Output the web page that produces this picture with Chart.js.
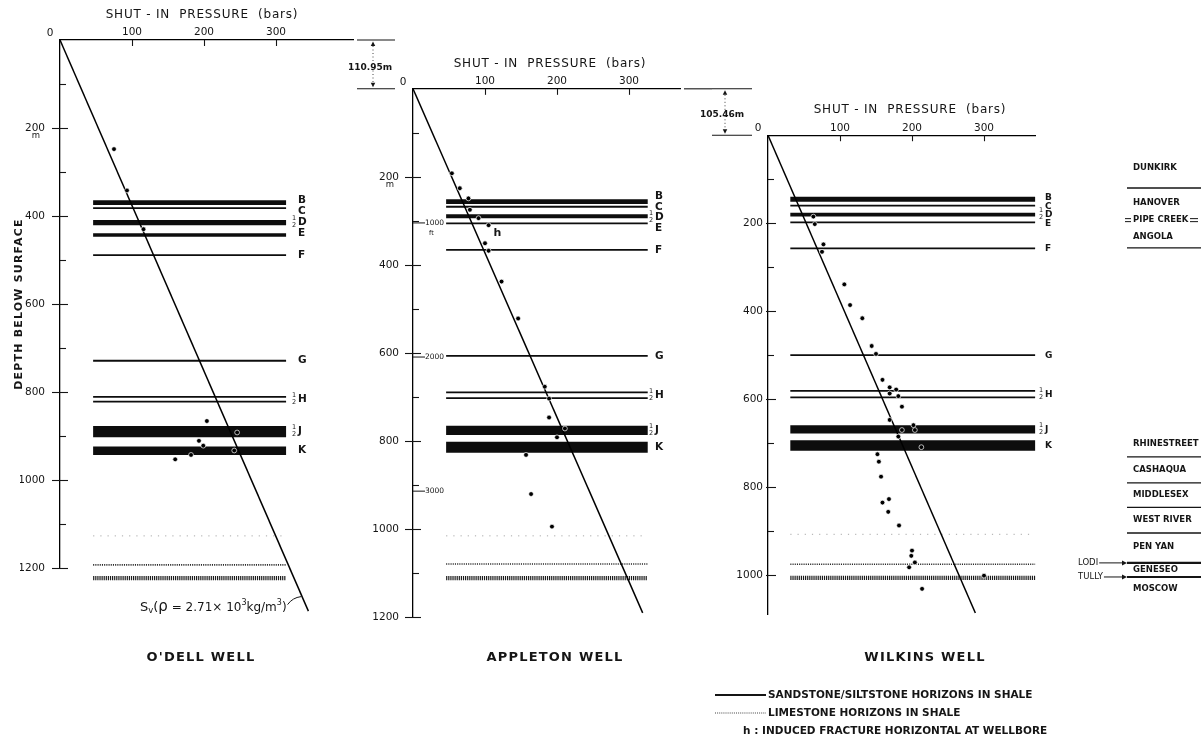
<!DOCTYPE html>
<html lang="en">
<head>
<meta charset="utf-8">
<title>Shut-in pressure vs depth – O'Dell, Appleton and Wilkins wells</title>
<script src="https://cdn.jsdelivr.net/npm/chart.js@4.4.1/dist/chart.umd.min.js"></script>
<style>
  html, body { margin: 0; padding: 0; background: #fff; }
  #figure { position: relative; width: 1201px; height: 752px; overflow: hidden; background: #fff; }
  #figure canvas { position: absolute; left: 0; top: 0; }
</style>
</head>
<body>
<div id="figure">
  <canvas id="odell" width="1201" height="752"></canvas>
  <canvas id="appleton" width="1201" height="752"></canvas>
  <canvas id="wilkins" width="1201" height="752"></canvas>
</div>
<script>
// ---------------------------------------------------------------------------
// Data
// ---------------------------------------------------------------------------
const wellNames = ["O'DELL WELL", 'APPLETON WELL', 'WILKINS WELL'];
const surfaceDrop = [0, 110.95, 105.46];          // m, surface of each well below the previous one
const pressureTicks = [0, 100, 200, 300];          // bars
const depthTickStep = 100;                         // m
const depthLabelStep = 200;                        // m
const footMarks = [1000, 2000, 3000];              // ft, marked on the Appleton log

// sandstone / siltstone horizons (top and base depth, m)
const bedNames = ['B', 'C', 'D', 'E', 'F', 'G', 'H', 'H', 'J', 'K'];
const halfBeds = ['D', 'H', 'J'];

const odellBedTop  = [364, 382, 409, 439, 489, 729, 811, 822, 877, 924];
const odellBedBase = [375, 382, 421, 447, 489, 729, 811, 822, 903, 943];
const odellLimestone = [1127, 1193, 1223];
const odellSvPressure = [0, 345];
const odellSvDepth    = [0, 1298];
const odellShutInPressure = [75, 93, 116, 204, 193, 199, 182, 160, 242, 246];
const odellShutInDepth    = [248, 342, 430, 866, 911, 922, 943, 953, 933, 892];

const appletonBedTop  = [251, 268, 285, 306, 366, 607, 690, 703, 766, 802];
const appletonBedBase = [262, 268, 294, 306, 366, 607, 690, 703, 787, 827];
const appletonLimestone = [1016, 1080, 1112];
const appletonSvPressure = [0, 319];
const appletonSvDepth    = [0, 1191];
const appletonShutInPressure = [54, 65, 77, 79, 91, 105, 100, 105, 123, 146, 183, 189, 189, 200, 211, 157, 164, 193];
const appletonShutInDepth    = [192, 226, 249, 275, 294, 310, 351, 368, 438, 522, 677, 704, 747, 792, 772, 832, 921, 995];
const appletonHorizontalFracture = [5];            // index of the test marked "h"

const wilkinsBedTop  = [140, 160, 176, 198, 257, 500, 581, 596, 659, 693];
const wilkinsBedBase = [151, 160, 185, 198, 257, 500, 581, 596, 678, 717];
const wilkinsLimestone = [907, 975, 1006];
const wilkinsSvPressure = [0, 288];
const wilkinsSvDepth    = [0, 1086];
const wilkinsShutInPressure = [63, 65, 77, 75, 106, 114, 131, 144, 150, 159, 169, 178, 169, 181, 186, 169, 202, 204, 186, 181,
                               213, 152, 154, 157, 159, 168, 167, 182, 200, 199, 204, 196, 300, 214];
const wilkinsShutInDepth    = [185, 202, 248, 265, 339, 386, 416, 479, 497, 556, 573, 578, 587, 593, 617, 647, 659, 670, 670, 685,
                               709, 725, 742, 776, 835, 827, 856, 887, 944, 956, 971, 982, 1001, 1031];

// stratigraphic column beside the Wilkins log (depths on the Wilkins scale, m)
const formationNames = ['DUNKIRK', 'HANOVER', 'PIPE CREEK', 'ANGOLA', 'RHINESTREET', 'CASHAQUA',
                        'MIDDLESEX', 'WEST RIVER', 'PEN YAN', 'GENESEO', 'MOSCOW'];
const formationLabelDepth = [75, 154, 193, 231, 702, 761, 818, 875, 936, 988, 1030];
const formationContactDepth = [120, 256, 731, 790, 846, 904];
const markerBedNames = ['LODI', 'TULLY'];
const markerBedDepth = [972, 1004];

const legendItems = ['SANDSTONE/SILTSTONE HORIZONS IN SHALE', 'LIMESTONE HORIZONS IN SHALE',
                     'h : INDUCED FRACTURE HORIZONTAL AT WELLBORE'];

// ---------------------------------------------------------------------------
// Drawing helpers
// ---------------------------------------------------------------------------
const FAMILY = '"DejaVu Sans", "Liberation Sans", Arial, sans-serif';
const INK = '#151515';
const PX_PER_M = 0.44;
const PX_PER_BAR = 0.72;
const W = 1201, H = 752;

function drawText(ctx, s, x, y, size, o = {}) {
  ctx.save();
  ctx.font = (o.style ? o.style + ' ' : '') + (o.weight || 'normal') + ' ' + size + 'px ' + FAMILY;
  ctx.fillStyle = o.color || INK;
  ctx.textAlign = o.align || 'left';
  ctx.textBaseline = o.baseline || 'middle';
  if (o.spacing) ctx.letterSpacing = o.spacing + 'px';
  ctx.fillText(s, x, y);
  const w = ctx.measureText(s).width;
  ctx.restore();
  return w;
}

function seg(ctx, x1, y1, x2, y2, width = 1, dash = [], color = INK) {
  ctx.save();
  ctx.strokeStyle = color;
  ctx.lineWidth = width;
  ctx.setLineDash(dash);
  ctx.beginPath();
  ctx.moveTo(x1, y1);
  ctx.lineTo(x2, y2);
  ctx.stroke();
  ctx.restore();
}

function arrowHead(ctx, x, y, dx, dy, size = 4.5) {
  // filled head with its tip at (x, y) pointing along (dx, dy)
  const len = Math.hypot(dx, dy), ux = dx / len, uy = dy / len;
  ctx.save();
  ctx.fillStyle = INK;
  ctx.beginPath();
  ctx.moveTo(x, y);
  ctx.lineTo(x - ux * size - uy * size * 0.5, y - uy * size + ux * size * 0.5);
  ctx.lineTo(x - ux * size + uy * size * 0.5, y - uy * size - ux * size * 0.5);
  ctx.closePath();
  ctx.fill();
  ctx.restore();
}

const LIMESTONE_STYLE = [
  { width: 1.0, dash: [1.2, 6], color: '#a8a8a8' },
  { width: 1.6, dash: [1.1, 1.1], color: '#2a2a2a' },
  { width: 4.2, dash: [1.2, 0.9], color: '#1c1c1c' }
];

// ---------------------------------------------------------------------------
// Panel layout
// ---------------------------------------------------------------------------
const wells = [
  { canvas: 'odell', name: wellNames[0], left: 60, xMax: 407, yMax: 1200,
    bandFrom: 46, bandTo: 314, labelX: 298, labelGap: 11, letterSize: 10.5, yLabelPad: 15, majorOut: 8,
    titleX: 202, nameX: 201, depthTitle: true, unitUnder200: true,
    bedTop: odellBedTop, bedBase: odellBedBase, lime: odellLimestone,
    svP: odellSvPressure, svD: odellSvDepth, p: odellShutInPressure, d: odellShutInDepth },
  { canvas: 'appleton', name: wellNames[1], left: 413, xMax: 372, yMax: 1200,
    bandFrom: 46, bandTo: 326, labelX: 655, labelGap: 10.5, letterSize: 10.5, yLabelPad: 14, majorOut: 8,
    titleX: 550, nameX: 555, unitUnder200: true,
    bedTop: appletonBedTop, bedBase: appletonBedBase, lime: appletonLimestone,
    svP: appletonSvPressure, svD: appletonSvDepth, p: appletonShutInPressure, d: appletonShutInDepth },
  { canvas: 'wilkins', name: wellNames[2], left: 768, xMax: 371, yMax: 1090,
    bandFrom: 31, bandTo: 371, labelX: 1045, labelGap: 8.5, letterSize: 9, yLabelPad: 5, majorOut: 2,
    titleX: 910, nameX: 925,
    bedTop: wilkinsBedTop, bedBase: wilkinsBedBase, lime: wilkinsLimestone,
    svP: wilkinsSvPressure, svD: wilkinsSvDepth, p: wilkinsShutInPressure, d: wilkinsShutInDepth }
];
let surfaceY = 40;
wells.forEach((w, i) => {
  surfaceY += surfaceDrop[i] * PX_PER_M;
  w.top = surfaceY;
  w.right = w.left + w.xMax * PX_PER_BAR;
  w.bottom = w.top + w.yMax * PX_PER_M;
});

// ---------------------------------------------------------------------------
// Annotation layers
// ---------------------------------------------------------------------------
function drawAxesDecor(chart, w) {
  const { ctx, chartArea: a, scales: { x, y } } = chart;
  // pressure ticks point into the plot
  x.ticks.forEach(t => {
    if (t.value <= 0) return;
    const px = Math.round(x.getPixelForValue(t.value)) + 0.5;
    seg(ctx, px, a.top, px, a.top + 6, 1.1);
  });
  // depth ticks every 100 m, labelled every 200 m
  y.ticks.forEach(t => {
    if (t.value <= 0) return;
    const py = Math.round(y.getPixelForValue(t.value)) + 0.5;
    const major = t.value % depthLabelStep === 0;
    seg(ctx, a.left - (major ? w.majorOut : 0), py, a.left + (major ? 8 : 6), py, 1.1);
  });
  drawText(ctx, '0', x.getPixelForValue(0) - 10, a.top - 7, 10.5, { align: 'center' });
  drawText(ctx, 'SHUT - IN  PRESSURE  (bars)', w.titleX, a.top - 25, 12, { align: 'center', spacing: 0.8 });
  if (w.unitUnder200) {
    drawText(ctx, 'm', a.left - w.yLabelPad - 9, y.getPixelForValue(200) + 8, 8.5, { align: 'center' });
  }
  if (w.depthTitle) {
    ctx.save();
    ctx.translate(19, (a.top + a.bottom) / 2);
    ctx.rotate(-Math.PI / 2);
    drawText(ctx, 'DEPTH BELOW SURFACE', 0, 0, 11, { align: 'center', weight: 'bold', spacing: 1.2 });
    ctx.restore();
  }
  drawText(ctx, w.name, w.nameX, 658, 13, { align: 'center', weight: 'bold', spacing: 1.2 });
}

function drawBedLabels(chart, w) {
  const { ctx, scales: { y } } = chart;
  const names = [];
  bedNames.forEach(n => { if (!names.includes(n)) names.push(n); });
  const centre = {};
  names.forEach(n => {
    const ys = [];
    bedNames.forEach((m, i) => { if (m === n) ys.push(y.getPixelForValue((w.bedTop[i] + w.bedBase[i]) / 2)); });
    centre[n] = ys.reduce((s, v) => s + v, 0) / ys.length;
  });
  // the closely spaced upper horizons get evenly stacked letters
  const stack = ['B', 'C', 'D', 'E'];
  const mean = stack.reduce((s, n) => s + centre[n], 0) / stack.length;
  stack.forEach((n, k) => { centre[n] = mean + (k - 1.5) * w.labelGap; });
  names.forEach(n => {
    const py = centre[n];
    if (halfBeds.includes(n)) {
      drawText(ctx, '1', w.labelX - 4, py - 4, 6.5, { align: 'center' });
      drawText(ctx, '2', w.labelX - 4, py + 3, 6.5, { align: 'center' });
    }
    drawText(ctx, n, w.labelX, py, w.letterSize, { weight: 'bold' });
  });
}

function drawSvLabel(chart) {
  const { ctx, chartArea: a, scales: { y } } = chart;
  const cy = y.getPixelForValue(1290);
  let cx = a.left + 80;
  const parts = [['S', 13, 0], ['v', 8.5, 3], ['(', 13, 0], ['\u03c1', 15, 0], [' = 2.71\u00d7 10', 12, 0],
                 ['3', 8, -5], ['kg/m', 12, 0], ['3', 8, -5], [')', 12, 0]];
  parts.forEach(([s, size, dy]) => { cx += drawText(ctx, s, cx, cy + dy, size); });
  // leader to the overburden line
  const meta = chart.getDatasetMeta(1).data;
  const p0 = meta[0], p1 = meta[meta.length - 1];
  const ty = cy - 11;
  const t = (ty - p0.y) / (p1.y - p0.y);
  const tx = p0.x + (p1.x - p0.x) * t;
  ctx.save();
  ctx.strokeStyle = INK; ctx.lineWidth = 1;
  ctx.beginPath();
  ctx.moveTo(cx + 1, cy - 3);
  ctx.quadraticCurveTo(cx + 6, ty + 1, tx - 1, ty);
  ctx.stroke();
  ctx.restore();
}

function drawSurfaceOffset(chart, yPrev, xFrom, xTo, xArrow, label, textX) {
  const { ctx, chartArea: a } = chart;
  seg(ctx, xFrom, yPrev, xTo, yPrev, 1.1);
  seg(ctx, xFrom, a.top, xTo, a.top, 1.1);
  seg(ctx, xArrow, yPrev + 6, xArrow, a.top - 6, 0.8, [1, 2.5]);
  arrowHead(ctx, xArrow, yPrev + 1.5, 0, -1, 4.5);
  arrowHead(ctx, xArrow, a.top - 1.5, 0, 1, 4.5);
  drawText(ctx, label, textX, (yPrev + a.top) / 2 + 3, 9, { align: 'center', weight: 'bold' });
}

function drawAppletonExtras(chart) {
  const { ctx, chartArea: a, scales: { y } } = chart;
  const yOdell = y.getPixelForValue(-surfaceDrop[1]);
  drawSurfaceOffset(chart, yOdell, 357, 395, 373, surfaceDrop[1].toFixed(2) + 'm', 370);
  // depth in feet
  footMarks.forEach((f, i) => {
    const py = y.getPixelForValue(f * 0.3048);
    seg(ctx, a.left, py, a.left + 12, py, 1);
    drawText(ctx, String(f), a.left + 12, py, 7.5);
    if (i === 0) drawText(ctx, 'ft', a.left + 16, py + 10, 6.5);
  });
  // horizontal induced fracture
  const pts = chart.getDatasetMeta(0).data;
  appletonHorizontalFracture.forEach(i => {
    drawText(ctx, 'h', pts[i].x + 5, pts[i].y + 8, 11, { weight: 'bold' });
  });
}

function drawWilkinsExtras(chart) {
  const { ctx, scales: { y } } = chart;
  const yApple = y.getPixelForValue(-surfaceDrop[2]);
  seg(ctx, 684, yApple, 712, yApple, 1.1);
  drawSurfaceOffset(chart, yApple, 712, 752, 725, surfaceDrop[2].toFixed(2) + 'm', 722);

  // stratigraphic column
  const fx = 1133, lx = 1127;
  formationNames.forEach((n, i) => {
    const py = y.getPixelForValue(formationLabelDepth[i]);
    drawText(ctx, n, fx, py, 8.5, { weight: 'bold' });
    if (n === 'PIPE CREEK') {
      seg(ctx, 1125, py - 1.5, 1131, py - 1.5, 1); seg(ctx, 1125, py + 1.5, 1131, py + 1.5, 1);
      seg(ctx, 1190, py - 1.5, 1198, py - 1.5, 1); seg(ctx, 1190, py + 1.5, 1198, py + 1.5, 1);
    }
  });
  formationContactDepth.forEach(d => {
    const py = y.getPixelForValue(d);
    seg(ctx, lx, py, W, py, 1.3);
  });
  markerBedNames.forEach((n, i) => {
    const py = y.getPixelForValue(markerBedDepth[i]);
    const tw = drawText(ctx, n, 1078, py, 8.5, { weight: 'normal' });
    seg(ctx, 1078 + tw + 1, py, lx - 2, py, 1);
    arrowHead(ctx, lx, py, 1, 0, 5);
    seg(ctx, lx, py, W, py, 2.2);
  });

  // key to the horizon line styles
  seg(ctx, 715, 695, 766, 695, 2);
  drawText(ctx, legendItems[0], 768, 695, 10.5, { weight: 'bold' });
  seg(ctx, 715, 713, 766, 713, 1.1, [1, 1.1], '#444');
  drawText(ctx, legendItems[1], 768, 713, 10.5, { weight: 'bold' });
  drawText(ctx, legendItems[2], 743, 731, 10.5, { weight: 'bold' });
}

// ---------------------------------------------------------------------------
// Charts
// ---------------------------------------------------------------------------
function makeWell(w, index) {
  const datasets = [];
  datasets.push({
    label: 'shut-in pressure',
    data: w.p.map((p, i) => ({ x: p, y: w.d[i] })),
    showLine: false, pointRadius: 2.4, pointHoverRadius: 2.4,
    pointBackgroundColor: '#000', pointBorderColor: '#fff', pointBorderWidth: 0.7,
    order: 0, clip: false
  });
  datasets.push({
    label: 'Sv',
    data: w.svP.map((p, i) => ({ x: p, y: w.svD[i] })),
    showLine: true, borderColor: '#000', borderWidth: 1.5, pointRadius: 0,
    order: 1, clip: false
  });
  w.bedTop.forEach((top, i) => {
    const base = w.bedBase[i];
    const mid = (top + base) / 2;
    datasets.push({
      label: 'horizon ' + bedNames[i],
      data: [{ x: w.bandFrom, y: mid }, { x: w.bandTo, y: mid }],
      showLine: true, borderColor: '#0d0d0d', borderCapStyle: 'butt', pointRadius: 0,
      borderWidth: ctx => {
        const ys = ctx.chart.scales.y;
        return Math.max(1.8, Math.abs(ys.getPixelForValue(base) - ys.getPixelForValue(top)));
      },
      order: 2, clip: false
    });
  });
  w.lime.forEach((depth, i) => {
    const st = LIMESTONE_STYLE[i];
    datasets.push({
      label: 'limestone',
      data: [{ x: w.bandFrom, y: depth }, { x: w.bandTo, y: depth }],
      showLine: true, borderColor: st.color, borderWidth: st.width, borderDash: st.dash,
      borderCapStyle: 'butt', pointRadius: 0, order: 3, clip: false
    });
  });

  const decor = {
    id: 'wellDecor' + index,
    afterDraw(chart) {
      drawAxesDecor(chart, w);
      drawBedLabels(chart, w);
      if (index === 0) drawSvLabel(chart);
      if (index === 1) drawAppletonExtras(chart);
      if (index === 2) drawWilkinsExtras(chart);
    }
  };

  const depthTicks = [];
  for (let v = 0; v <= w.yMax; v += depthTickStep) depthTicks.push(v);

  return new Chart(document.getElementById(w.canvas), {
    type: 'scatter',
    data: { datasets },
    plugins: [decor],
    options: {
      responsive: false, animation: false, devicePixelRatio: 1, events: [],
      layout: { padding: { left: w.left - 40, top: w.top - 20, right: W - w.right, bottom: H - w.bottom } },
      plugins: { legend: { display: false }, tooltip: { enabled: false } },
      scales: {
        x: {
          type: 'linear', position: 'top', min: 0, max: w.xMax,
          afterBuildTicks: s => { s.ticks = pressureTicks.map(v => ({ value: v })); },
          afterFit: s => { s.height = 20; },
          grid: { display: false, drawTicks: false },
          border: { display: true, color: '#000', width: 1.3 },
          ticks: {
            autoSkip: false, maxRotation: 0, padding: 1,
            color: INK, font: { family: FAMILY, size: 10.5 },
            callback: v => v > 0 ? String(v) : ''
          }
        },
        y: {
          type: 'linear', reverse: true, min: 0, max: w.yMax,
          afterBuildTicks: s => { s.ticks = depthTicks.map(v => ({ value: v })); },
          afterFit: s => { s.width = 40; },
          grid: { display: false, drawTicks: false },
          border: { display: true, color: '#000', width: 1.3 },
          ticks: {
            autoSkip: false, padding: w.yLabelPad,
            color: INK, font: { family: FAMILY, size: 10.5 },
            callback: v => (v > 0 && v % depthLabelStep === 0) ? String(v) : ''
          }
        }
      }
    }
  });
}

wells.forEach((w, i) => makeWell(w, i));
</script>
</body>
</html>
